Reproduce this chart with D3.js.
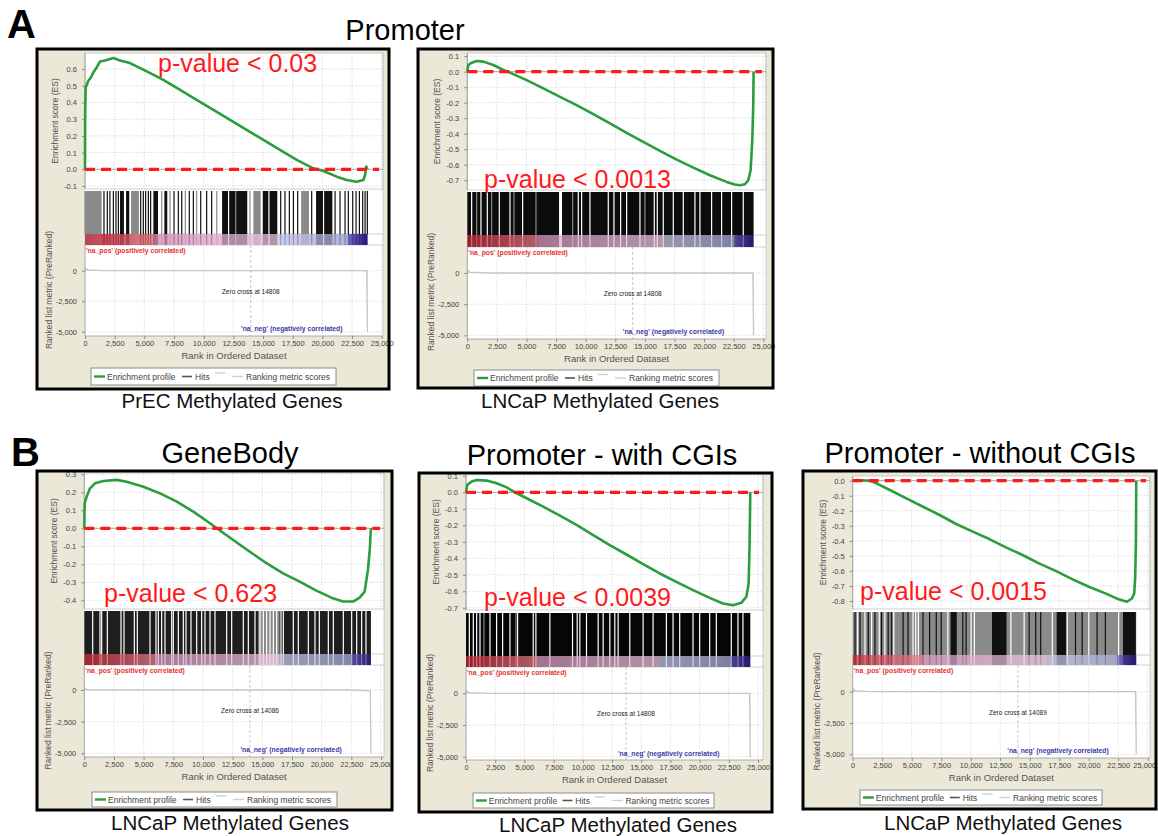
<!DOCTYPE html>
<html><head><meta charset="utf-8">
<script src="https://cdn.jsdelivr.net/npm/d3@7"></script>
<style>body{margin:0;background:#fff}svg{display:block}</style>
</head><body>
<svg id="c" width="1158" height="836"></svg>
<script>
// ---------------- DATA ----------------
const xTicks = [0,2500,5000,7500,10000,12500,15000,17500,20000,22500,25000];
const metricTicks = [0,-2500,-5000];
const cbRankFrac = [0, 0.247, 0.25, 0.68, 0.683, 0.93, 0.935, 1];
const cbColors = ["#cc2a3c","#ec8290","#dea0c8","#f2cce4","#cfd0ef","#aeb0de","#6a5cc0","#2a1b92"];

// A1 PrEC promoter
const a1Rank = [0,15,60,280,500,700,980,1260,1690,2390,2950,3790,5200,6600,8010,9410,10820,12220,13620,15030,16430,17840,19240,20090,21210,22050,22890,23460,23600,23690,23800];
const a1ES   = [0,0.35,0.49,0.53,0.55,0.58,0.61,0.645,0.652,0.666,0.652,0.636,0.586,0.536,0.476,0.416,0.356,0.296,0.236,0.176,0.116,0.056,0.006,-0.01,-0.044,-0.064,-0.074,-0.064,-0.034,0.016,0];
const a1Ticks = [0.6,0.5,0.4,0.3,0.2,0.1,0.0,-0.1];
const a1Hits = [[0,1350,'g'],[1600,1600,'k'],[1880,1880,'k'],[2100,2100,'k'],[2390,2390,'k'],[2610,2610,'k'],[2810,2810,'k'],[3000,3230,'k'],[3510,3680,'k'],[3930,4490,'g'],[4690,4690,'k'],[4915,4915,'k'],[5110,5110,'k'],[5340,5340,'k'],[5530,5530,'k'],[5810,6100,'k'],[6460,6460,'g'],[6740,6880,'k'],[7160,7160,'g'],[7500,7500,'k'],[7865,7865,'k'],[8150,8150,'k'],[8455,8455,'g'],[8790,8790,'k'],[9130,9130,'k'],[9410,9410,'g'],[9750,9750,'k'],[10250,10250,'k'],[10670,10670,'k'],[11100,11100,'g'],[11600,13620,'k'],[12100,12100,'w'],[12700,12700,'g'],[13900,13900,'g'],[14240,14750,'g'],[15030,16150,'k'],[15500,15500,'w'],[16490,16490,'k'],[16850,16850,'k'],[17220,17220,'k'],[17560,17560,'k'],[17920,17920,'k'],[18260,18820,'g'],[19100,19100,'k'],[19520,20790,'k'],[20100,20100,'w'],[21070,21070,'k'],[21490,21490,'k'],[21910,21910,'k'],[22190,22190,'k'],[22560,22560,'k'],[22840,22840,'k'],[23120,23120,'k'],[23400,23400,'k'],[23600,23600,'k'],[23790,23790,'k']];
const a1MetricRank = [0,200,1600,1700,23740,23800];
const a1Metric = [250,60,10,0,0,-5000];

// A2 LNCaP promoter
const a2Rank = [0,85,370,790,1350,2200,3180,3600,5010,6420,7830,9230,10640,12050,13460,14860,16270,17680,19090,20490,21900,22600,23030,23450,23730,23930,24070,24150,24180];
const a2ES   = [0,0.043,0.058,0.069,0.065,0.043,0.006,-0.006,-0.054,-0.108,-0.162,-0.216,-0.274,-0.334,-0.394,-0.453,-0.511,-0.567,-0.619,-0.668,-0.711,-0.728,-0.733,-0.726,-0.70,-0.636,-0.442,-0.226,0];
const a2Ticks = [0.1,0.0,-0.1,-0.2,-0.3,-0.4,-0.5,-0.6,-0.7];
const a2Hits = [[366,366,'w'],[788,788,'g'],[1154,1154,'w'],[1689,1689,'w'],[2055,2055,'g'],[2702,2702,'w'],[3603,3603,'w'],[3941,3941,'g'],[4673,4673,'w'],[5800,5800,'g'],[7800,7950,'w'],[8900,8900,'g'],[9374,9374,'w'],[9655,9655,'w'],[10359,10359,'w'],[11907,11907,'w'],[12386,12386,'w'],[12949,12949,'w'],[13456,13456,'w'],[14582,14582,'w'],[15000,15000,'g'],[15792,15792,'w'],[16046,16046,'w'],[16552,16552,'w'],[17397,17397,'w'],[18241,18241,'w'],[19226,19226,'w'],[19649,19649,'w'],[20634,20634,'w'],[21478,21478,'w'],[22323,22323,'w'],[23308,23308,'w']];
const a2MetricRank = [0,200,1600,1700,24120,24180];
const a2Metric = [250,60,10,0,0,-5000];

// B1 GeneBody
const b1Rank = [0,30,200,480,900,1600,2730,3570,4980,6380,7790,9180,10590,11160,12550,13950,15350,16750,18150,19550,20950,21800,22640,23200,23620,23900,24050,24150];
const b1ES   = [0,0.139,0.176,0.222,0.25,0.263,0.269,0.259,0.231,0.194,0.148,0.093,0.028,0,-0.065,-0.13,-0.194,-0.25,-0.296,-0.346,-0.389,-0.407,-0.407,-0.385,-0.352,-0.231,-0.12,0];
const b1Ticks = [0.3,0.2,0.1,0.0,-0.1,-0.2,-0.3,-0.4];
const b1Hits = [[14700,16400,'g'],[705,705,'w'],[1323,1323,'w'],[1464,1464,'w'],[1941,1941,'w'],[3092,3092,'w'],[3345,3345,'w'],[4216,4216,'w'],[4468,4468,'w'],[5536,5536,'w'],[6041,6041,'w'],[6238,6238,'w'],[6519,6519,'w'],[6800,6800,'w'],[7361,7361,'w'],[7502,7502,'w'],[7923,7923,'w'],[8344,8344,'w'],[8569,8569,'w'],[8990,8990,'w'],[9468,9468,'w'],[9889,9889,'w'],[10170,10170,'w'],[10591,10591,'w'],[11013,11013,'w'],[11996,11996,'w'],[12417,12417,'w'],[13400,13400,'w'],[13821,13821,'w'],[14383,14383,'w'],[14804,14804,'w'],[15085,15085,'w'],[15366,15366,'w'],[15647,15647,'w'],[15928,15928,'w'],[16209,16209,'w'],[16574,16574,'w'],[16770,16770,'w'],[17613,17613,'w'],[18034,18034,'w'],[18877,18877,'w'],[19438,19438,'w'],[19804,19804,'w'],[20562,20562,'w'],[20983,20983,'w'],[21826,21826,'w'],[22528,22528,'w'],[22949,22949,'w'],[23370,23370,'w'],[23736,23736,'w']];
const b1MetricRank = [0,150,300,22600,24100,24150];
const b1Metric = [200,40,0,0,-60,-5000];

// B2 Promoter with CGIs
const b2Rank = [0,110,490,910,1770,2620,3480,4190,5190,6610,8040,9460,10890,12310,13740,15160,16590,18010,19440,20860,22000,22860,23570,24000,24200,24280,24340];
const b2ES   = [0,0.045,0.065,0.075,0.071,0.055,0.03,0,-0.036,-0.087,-0.142,-0.198,-0.259,-0.32,-0.377,-0.435,-0.492,-0.543,-0.593,-0.64,-0.674,-0.684,-0.67,-0.634,-0.553,-0.31,0];
const b2Ticks = [0.1,0.0,-0.1,-0.2,-0.3,-0.4,-0.5,-0.6,-0.7];
const b2Hits = [[285,285,'w'],[627,627,'w'],[912,912,'w'],[1197,1197,'w'],[1539,1539,'g'],[2052,2052,'w'],[2622,2622,'w'],[3135,3135,'w'],[3762,3762,'w'],[4275,4275,'g'],[4418,4418,'w'],[5757,5757,'w'],[5985,5985,'w'],[7182,7182,'w'],[9120,9120,'w'],[9519,9519,'w'],[9747,9747,'w'],[10317,10317,'w'],[11315,11315,'w'],[11742,11742,'w'],[12312,12312,'w'],[12740,12740,'w'],[13025,13025,'w'],[14022,14022,'w'],[15162,15162,'w'],[16017,16017,'w'],[17157,17157,'w'],[17727,17727,'w'],[18297,18297,'w'],[19437,19437,'w'],[20007,20007,'w'],[20862,20862,'w'],[21432,21432,'w'],[22715,22715,'w'],[23285,23285,'w'],[23712,23712,'w']];
const b2MetricRank = [0,200,1600,1700,24280,24340];
const b2Metric = [250,60,10,0,0,-5000];

// B3 Promoter without CGIs
const b3Rank = [0,340,1460,2020,3150,4550,5960,7360,8770,10170,11580,12980,14390,15790,17200,18600,20010,21410,22540,23240,23660,23860,23940,24000,24030];
const b3ES   = [0,0.004,0,-0.018,-0.062,-0.118,-0.173,-0.228,-0.288,-0.339,-0.388,-0.443,-0.494,-0.55,-0.6,-0.654,-0.705,-0.749,-0.789,-0.805,-0.783,-0.749,-0.639,-0.417,0];
const b3Ticks = [0.0,-0.1,-0.2,-0.3,-0.4,-0.5,-0.6,-0.7,-0.8];
const b3Hits = [[197,197,'k'],[422,422,'w'],[618,618,'k'],[1040,1040,'w'],[1321,1321,'k'],[1602,1602,'w'],[1883,1883,'k'],[2248,2248,'w'],[2445,2445,'k'],[2726,2726,'w'],[3007,3007,'k'],[3288,3288,'k'],[3484,3484,'w'],[4271,4271,'k'],[4693,4693,'k'],[5114,5114,'w'],[5339,5339,'w'],[5564,5564,'w'],[5957,5957,'k'],[6519,6519,'k'],[7081,7081,'k'],[7503,7503,'k'],[8065,8065,'w'],[8346,8767,'k'],[9329,9329,'k'],[9610,9610,'k'],[10032,10032,'w'],[10313,10313,'w'],[11858,12982,'k'],[13404,13404,'w'],[14528,14528,'w'],[14949,14949,'k'],[15511,15511,'k'],[15932,15932,'k'],[16916,16916,'w'],[17338,18040,'k'],[18181,18181,'w'],[18883,18883,'k'],[19445,19445,'k'],[20007,20007,'w'],[20710,20710,'k'],[21412,21412,'k'],[22536,22536,'w'],[22958,23941,'k']];
const b3MetricRank = [0,200,1600,1700,23970,24030];
const b3Metric = [250,60,10,0,0,-5000];

const zeroCross = ["Zero cross at 14808","Zero cross at 14808","Zero cross at 14086","Zero cross at 14808","Zero cross at 14089"];
const zeroLine = [13970,13970,13960,13700,14000];
const pValues = ["p-value < 0.03","p-value < 0.0013","p-value < 0.623","p-value < 0.0039","p-value < 0.0015"];
const captions = ["PrEC Methylated Genes","LNCaP Methylated Genes","LNCaP Methylated Genes","LNCaP Methylated Genes","LNCaP Methylated Genes"];
const panelTitles = ["GeneBody","Promoter - with CGIs","Promoter - without CGIs"];

// ---------------- LAYOUT (pixels) ----------------
const layouts = [
 {frame:[37,49,389,389], x0:85, x25:381.7, pr:383, esTop:53, esBot:189, es0:169.3, esPx:167, hitsTop:191, hitsBot:234, cbBot:245, m0:270.7, m5:331.7, plotBot:336, leg:[91,368,245,17], capX:232, capY:407.5, pv:[158,72]},
 {frame:[418,49,773,388], x0:467.3, x25:763.3, pr:766, esTop:53, esBot:190, es0:71.7, esPx:155, hitsTop:192, hitsBot:235, cbBot:247, m0:273, m5:335.3, plotBot:339, leg:[474,370,245,16], capX:600, capY:407.5, pv:[484,188]},
 {frame:[37,471,392,810], x0:84.3, x25:381, pr:384, esTop:473, esBot:609, es0:528.3, esPx:180, hitsTop:611, hitsBot:654, cbBot:665, m0:690, m5:753.3, plotBot:757, leg:[92,792,245,15], capX:230, capY:829.5, pv:[104,602]},
 {frame:[419,473,772,812], x0:466, x25:758, pr:763, esTop:474, esBot:610, es0:492.3, esPx:165, hitsTop:613, hitsBot:656, cbBot:667, m0:693.3, m5:756.7, plotBot:760, leg:[473,793,241,15], capX:618, capY:831.5, pv:[484,606]},
 {frame:[803,471,1156,809], x0:852.7, x25:1147.7, pr:1150, esTop:476, esBot:609, es0:480.7, esPx:150.4, hitsTop:612, hitsBot:655, cbBot:665, m0:691.7, m5:754.3, plotBot:758, leg:[860,790,242,15], capX:1003, capY:830, pv:[860,600]}
];

const panels = [
 {rank:a1Rank, es:a1ES, ticks:a1Ticks, hits:a1Hits, base:null, mR:a1MetricRank, mV:a1Metric},
 {rank:a2Rank, es:a2ES, ticks:a2Ticks, hits:a2Hits, base:"#0c0c0c", mR:a2MetricRank, mV:a2Metric},
 {rank:b1Rank, es:b1ES, ticks:b1Ticks, hits:b1Hits, base:"#1e1e1e", mR:b1MetricRank, mV:b1Metric},
 {rank:b2Rank, es:b2ES, ticks:b2Ticks, hits:b2Hits, base:"#060606", mR:b2MetricRank, mV:b2Metric},
 {rank:b3Rank, es:b3ES, ticks:b3Ticks, hits:b3Hits, base:"#8a8a8a", mR:b3MetricRank, mV:b3Metric}
];

// ---------------- DRAW ----------------
const FONT = "Arial, 'Liberation Sans', Helvetica, sans-serif";
const svg = d3.select("#c");
const defs = svg.append("defs");
const fmtES = v => d3.format(".1f")(v).replace("\u2212","-");
const fmtK = v => d3.format(",")(v).replace("\u2212","-");
const shade = {k:"#111", g:"#8a8a8a", w:"#ffffff"};

function drawPanel(i){
  const L = layouts[i], D = panels[i];
  const N = D.rank[D.rank.length-1];
  const g = svg.append("g");
  const [fx0,fy0,fx1,fy1] = L.frame;
  g.append("rect").attr("x",fx0).attr("y",fy0).attr("width",fx1-fx0).attr("height",fy1-fy0).attr("fill","#ebe8d7");

  const x = d3.scaleLinear().domain([0,25000]).range([L.x0,L.x25]);
  const yES = d3.scaleLinear().domain([0,1]).range([L.es0, L.es0-L.esPx]);
  const yM = d3.scaleLinear().domain([0,-5000]).range([L.m0, L.m5]);

  g.append("rect").attr("x",L.x0).attr("y",L.esTop).attr("width",L.pr-L.x0).attr("height",L.plotBot-L.esTop).attr("fill","#fff");

  const grid = g.append("g").attr("stroke","#d6d6d6").attr("stroke-width",0.8).attr("stroke-dasharray","1.5,1.5");
  xTicks.forEach(t=>{
    if (x(t) > L.pr) return;
    grid.append("line").attr("x1",x(t)).attr("x2",x(t)).attr("y1",L.esTop).attr("y2",L.esBot);
    grid.append("line").attr("x1",x(t)).attr("x2",x(t)).attr("y1",L.cbBot).attr("y2",L.plotBot);
  });
  D.ticks.forEach(t=>{
    grid.append("line").attr("x1",L.x0).attr("x2",L.pr).attr("y1",yES(t)).attr("y2",yES(t));
  });
  metricTicks.forEach(t=>{
    grid.append("line").attr("x1",L.x0).attr("x2",L.pr).attr("y1",yM(t)).attr("y2",yM(t));
  });

  const bd = g.append("g").attr("fill","none").attr("stroke","#c4c4c4").attr("stroke-width",0.8);
  bd.append("rect").attr("x",L.x0).attr("y",L.esTop).attr("width",L.pr-L.x0).attr("height",L.esBot-L.esTop);
  bd.append("line").attr("x1",L.x0).attr("x2",L.pr).attr("y1",L.hitsBot).attr("y2",L.hitsBot);
  bd.append("line").attr("x1",L.x0).attr("x2",L.pr).attr("y1",L.cbBot).attr("y2",L.cbBot);
  bd.append("line").attr("x1",L.pr).attr("x2",L.pr).attr("y1",L.esTop).attr("y2",L.plotBot);

  g.append("line").attr("x1",L.x0).attr("x2",L.pr).attr("y1",yES(0)).attr("y2",yES(0)).attr("stroke","#a8a8a8").attr("stroke-width",1);

  function hitsLayer(y0, y1, op){
    const hg = g.append("g").attr("opacity",op);
    if (D.base) hg.append("rect").attr("x",x(0)).attr("y",y0).attr("width",x(N)-x(0)).attr("height",y1-y0).attr("fill",D.base);
    hg.selectAll("rect.h").data(D.hits).join("rect").attr("class","h")
      .attr("x",d=>x(d[0])-0.6).attr("y",y0)
      .attr("width",d=>Math.max(x(d[1])-x(d[0])+1.2,1.2)).attr("height",y1-y0)
      .attr("fill",d=>shade[d[2]]);
  }
  hitsLayer(L.hitsTop, L.hitsBot, 1);

  const gid = "cb"+i;
  const grad = defs.append("linearGradient").attr("id",gid).attr("gradientUnits","userSpaceOnUse")
    .attr("x1",x(0)).attr("x2",x(N)).attr("y1",0).attr("y2",0);
  cbRankFrac.forEach((f,k)=>grad.append("stop").attr("offset",f).attr("stop-color",cbColors[k]));
  g.append("rect").attr("x",x(0)).attr("y",L.hitsBot).attr("width",x(N)-x(0)).attr("height",L.cbBot-L.hitsBot).attr("fill","url(#"+gid+")");
  hitsLayer(L.hitsBot, L.cbBot, 0.28);

  // ranked metric
  const mdata = D.mR.map((r,k)=>[r,D.mV[k]]);
  g.append("path").datum(mdata).attr("fill","#c4c4c4").attr("stroke","none")
    .attr("d",d3.area().x(d=>x(d[0])).y0(yM(0)).y1(d=>yM(d[1])));
  g.append("path").datum(mdata).attr("fill","none").attr("stroke","#c6c6c6").attr("stroke-width",1.3)
    .attr("d",d3.line().x(d=>x(d[0])).y(d=>yM(d[1])));
  g.append("line").attr("x1",x(zeroLine[i])).attr("x2",x(zeroLine[i])).attr("y1",L.cbBot).attr("y2",L.plotBot)
    .attr("stroke","#b8b8b8").attr("stroke-width",0.8).attr("stroke-dasharray","3,2");
  g.append("text").attr("x",x(zeroLine[i])).attr("y",L.m0+23).attr("text-anchor","middle")
    .attr("font-family",FONT).attr("font-size",6.5).attr("fill","#222").text(zeroCross[i]);
  g.append("text").attr("x",L.x0+1).attr("y",L.cbBot+7.5).attr("font-family",FONT).attr("font-size",6.8).attr("font-weight","bold")
    .attr("fill","#e8302f").text("'na_pos' (positively correlated)");
  g.append("text").attr("x",x(21700)).attr("y",L.m5-1).attr("text-anchor","end").attr("font-family",FONT).attr("font-size",6.8).attr("font-weight","bold")
    .attr("fill","#3a3aa8").text("'na_neg' (negatively correlated)");

  const axStyle = sel => {
    sel.select(".domain").remove();
    sel.selectAll("line").attr("stroke","#888");
    sel.selectAll("text").attr("font-family",FONT).attr("font-size",7.5).attr("fill","#444");
  };
  g.append("g").attr("transform",`translate(${L.x0},0)`)
    .call(d3.axisLeft(yES).tickValues(D.ticks).tickFormat(fmtES).tickSize(3).tickPadding(5)).call(axStyle);
  g.append("g").attr("transform",`translate(${L.x0},0)`)
    .call(d3.axisLeft(yM).tickValues(metricTicks).tickFormat(fmtK).tickSize(3).tickPadding(5)).call(axStyle);
  const xa = g.append("g").attr("transform",`translate(0,${L.plotBot})`)
    .call(d3.axisBottom(x).tickValues(xTicks).tickFormat(fmtK).tickSize(3).tickPadding(2)).call(axStyle);
  // keep the last label inside the picture when the panel touches the right edge
  xa.selectAll(".tick").filter(d=>d===25000 && x(d)+10>1156).select("text").attr("text-anchor","end").attr("dx",8);
  const ax = g.append("g").attr("stroke","#999").attr("stroke-width",0.8);
  ax.append("line").attr("x1",L.x0).attr("x2",L.x0).attr("y1",L.esTop).attr("y2",L.esBot);
  ax.append("line").attr("x1",L.x0).attr("x2",L.x0).attr("y1",L.cbBot).attr("y2",L.plotBot);
  ax.append("line").attr("x1",L.x0).attr("x2",L.pr).attr("y1",L.plotBot).attr("y2",L.plotBot);

  g.append("text").attr("transform",`translate(${L.x0-27},${(L.esTop+L.esBot)/2}) rotate(-90)`).attr("text-anchor","middle")
    .attr("font-family",FONT).attr("font-size",8.5).attr("fill","#555").text("Enrichment score (ES)");
  g.append("text").attr("transform",`translate(${L.x0-33},${(L.hitsBot+L.plotBot)/2+5}) rotate(-90)`).attr("text-anchor","middle")
    .attr("font-family",FONT).attr("font-size",8.5).attr("fill","#555").text("Ranked list metric (PreRanked)");
  g.append("text").attr("x",(L.x0+L.pr)/2).attr("y",L.plotBot+23).attr("text-anchor","middle")
    .attr("font-family",FONT).attr("font-size",9.5).attr("fill","#555").text("Rank in Ordered Dataset");

  const ed = D.rank.map((r,k)=>[r,D.es[k]]);
  g.append("path").datum(ed).attr("fill","none").attr("stroke","#2a9d3c").attr("stroke-width",2.6).attr("stroke-linejoin","round")
    .attr("d",d3.line().x(d=>x(d[0])).y(d=>yES(d[1])));
  g.append("line").attr("x1",L.x0).attr("x2",L.pr-4).attr("y1",yES(0)).attr("y2",yES(0))
    .attr("stroke","#ff1a1a").attr("stroke-width",3.2).attr("stroke-dasharray","10,6");

  const [lx,ly,lw,lh] = L.leg; const s = lw/245, cy = ly+lh/2;
  const lg = g.append("g");
  lg.append("rect").attr("x",lx).attr("y",ly).attr("width",lw).attr("height",lh).attr("fill","#fff").attr("stroke","#8c8c8c").attr("stroke-width",1);
  lg.append("line").attr("x1",lx+3*s).attr("x2",lx+14*s).attr("y1",cy).attr("y2",cy).attr("stroke","#2a9d3c").attr("stroke-width",2.4);
  lg.append("line").attr("x1",lx+91*s).attr("x2",lx+101*s).attr("y1",cy).attr("y2",cy).attr("stroke","#555").attr("stroke-width",1.6);
  lg.append("line").attr("x1",lx+124*s).attr("x2",lx+134*s).attr("y1",cy-3.5).attr("y2",cy-3.5).attr("stroke","#d0d0d0").attr("stroke-width",1.4);
  lg.append("line").attr("x1",lx+141*s).attr("x2",lx+152*s).attr("y1",cy).attr("y2",cy).attr("stroke","#d0d0d0").attr("stroke-width",1.4);
  [["Enrichment profile",16],["Hits",104],["Ranking metric scores",155]].forEach(([t,o])=>{
    lg.append("text").attr("x",lx+o*s).attr("y",cy+3).attr("font-family",FONT).attr("font-size",8.5).attr("fill","#444").text(t);
  });

  g.append("text").attr("x",L.pv[0]).attr("y",L.pv[1]).attr("font-family",FONT).attr("font-size",25)
    .attr("fill","#ff1a1a").text(pValues[i]);

  g.append("rect").attr("x",fx0).attr("y",fy0).attr("width",fx1-fx0).attr("height",fy1-fy0)
    .attr("fill","none").attr("stroke","#000").attr("stroke-width",3);

  svg.append("text").attr("x",L.capX).attr("y",L.capY).attr("text-anchor","middle").attr("font-family",FONT)
    .attr("font-size",20.5).attr("fill","#111").text(captions[i]);
}

for (let i=0;i<5;i++) drawPanel(i);

const hd = (t,xx,yy,fs,w,anchor)=>svg.append("text").attr("x",xx).attr("y",yy).attr("font-family",FONT).attr("font-size",fs)
  .attr("font-weight",w).attr("text-anchor",anchor).attr("fill","#000").text(t);
hd("A",7,38,40,"bold","start");
hd("B",11,466,40,"bold","start");
hd("Promoter",405,40,29,"normal","middle");
hd(panelTitles[0],230,463,29,"normal","middle");
hd(panelTitles[1],602,465,29,"normal","middle");
hd(panelTitles[2],980,463,29,"normal","middle");
</script>
</body></html>
